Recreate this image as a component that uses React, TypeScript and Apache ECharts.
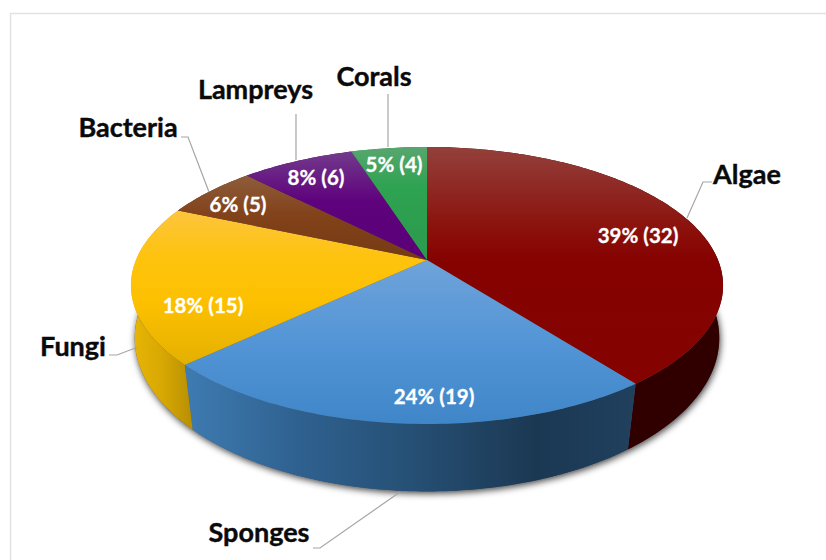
import React, { useEffect, useRef } from "react";
import * as echarts from "echarts";

const categories = ["Algae", "Sponges", "Fungi", "Bacteria", "Lampreys", "Corals"];
const values = [32, 19, 15, 5, 6, 4];
const percents = [39, 24, 18, 6, 8, 5];

// Styling and layout, one entry per category
const topGradients: [number, number, [number, string][]][] = [
  [147, 383, [[0, "#93403b"], [0.36, "#8b0f0a"], [0.48, "#850200"], [1, "#840300"]]],
  [260, 424, [[0, "#6fa3da"], [0.5, "#5395d6"], [1, "#3f86c8"]]],
  [210, 365, [[0, "#fcc53f"], [0.3, "#fec30e"], [0.6, "#fdc000"], [1, "#e3b000"]]],
  [178, 260, [[0, "#8d5b3a"], [0.45, "#82421a"], [1, "#763a12"]]],
  [152, 260, [[0, "#723a8b"], [0.45, "#5f027d"], [1, "#5a0076"]]],
  [147, 260, [[0, "#58a66f"], [0.35, "#2ea351"], [1, "#2b9a4d"]]],
];
const wallStops: [number, number, [number, string][]][] = [
  [630, 723, [[0, "#300000"], [1, "#300000"]]],
  [186, 634, [[0, "#3e7bb1"], [0.25, "#2f6190"], [0.5, "#265075"], [0.78, "#1b3853"], [1, "#20405e"]]],
  [133, 190, [[0, "#e8b505"], [0.5, "#d8a803"], [1, "#bb9102"]]],
  [133, 190, [[0, "#6a3410"], [1, "#6a3410"]]],
  [133, 190, [[0, "#4f0068"], [1, "#4f0068"]]],
  [133, 190, [[0, "#24803f"], [1, "#24803f"]]],
];
const namePositions: [number, number][] = [[747, 173], [259, 531], [73, 345], [128, 126], [255.5, 88], [374, 75]];
const percentPositions: [number, number][] = [[638, 235], [434, 396], [203, 305], [238, 204], [316, 177], [394, 164]];
const leaderLines: [number, number][][] = [
  [[712, 182], [703, 182], [687, 218]],
  [[313, 548], [320, 548], [400, 492]],
  [[109, 355], [117, 355], [138, 347]],
  [[181, 137], [188, 137], [209, 192]],
  [[296, 114], [296, 160]],
  [[388, 94], [388, 147]],
];

// Perspective projection of the unit disc, for the top and the bottom faces
const CX = 427;
function project(theta: number, cy: number, a: number, b: number, p: number): [number, number] {
  const u = Math.sin(theta);
  const v = -Math.cos(theta);
  const w = 1 - p * v;
  return [CX + (a * u) / w, cy + (b * v) / w];
}
const CY = 260;
const top = (t: number) => project(t, CY, 291, 133.8, 0.184);
const bottom = (t: number) => project(t, 315, 289, 150, 0.15);

function arc(fn: (t: number) => [number, number], a: number, b: number): [number, number][] {
  const n = Math.max(2, Math.ceil(((b - a) * 180) / Math.PI));
  const pts: [number, number][] = [];
  for (let i = 0; i <= n; i++) pts.push(fn(a + ((b - a) * i) / n));
  return pts;
}

const total = values.reduce((s, v) => s + v, 0);
const starts: number[] = [];
values.reduce((acc, v) => {
  starts.push(acc);
  return acc + v;
}, 0);
const angle = (v: number) => (v / total) * Math.PI * 2;

const seriesData = categories.map((name, i) => ({ name, value: [i, values[i], starts[i]] }));

function gradient(spec: [number, number, [number, string][]], vertical: boolean) {
  const [a, b, stops] = spec;
  const cs = stops.map(([offset, color]) => ({ offset, color }));
  return vertical
    ? new echarts.graphic.LinearGradient(0, a, 0, b, cs, true)
    : new echarts.graphic.LinearGradient(a, 0, b, 0, cs, true);
}

const option: any = {
  animation: false,
  backgroundColor: "#ffffff",
  series: [
    {
      type: "custom",
      coordinateSystem: "none",
      silent: true,
      z: 1,
      data: [{ name: "shadow", value: [0] }],
      renderItem: () => ({
        type: "polygon",
        shape: { points: arc(bottom, 0, Math.PI * 2) },
        style: { fill: "#555555", shadowBlur: 7, shadowColor: "rgba(0,0,0,0.75)", shadowOffsetX: 1, shadowOffsetY: 2 },
      }),
    },
    {
      type: "custom",
      coordinateSystem: "none",
      silent: true,
      z: 2,
      data: seriesData,
      renderItem: (_: any, api: any) => {
        const i = api.value(0);
        const a = angle(api.value(2));
        const b = a + angle(api.value(1));
        const points = [...arc(top, a, b), ...arc(bottom, a, b).reverse()];
        return {
          type: "polygon",
          shape: { points },
          style: { fill: gradient(wallStops[i], false) },
        };
      },
    },
    {
      type: "custom",
      coordinateSystem: "none",
      silent: true,
      z: 3,
      data: seriesData,
      renderItem: (_: any, api: any) => {
        const i = api.value(0);
        const a = angle(api.value(2));
        const b = a + angle(api.value(1));
        const points: [number, number][] = [[CX, CY], ...arc(top, a, b)];
        return {
          type: "polygon",
          shape: { points },
          style: { fill: gradient(topGradients[i], true) },
        };
      },
    },
  ],
  graphic: {
    elements: [
      { type: "polyline", silent: true, shape: { points: [[10.5, 560], [10.5, 13.5], [826, 13.5]] }, style: { stroke: "#e2e2e2", fill: "none", lineWidth: 1.5 }, z: 0 },
      ...leaderLines.map((points) => ({
        type: "polyline",
        silent: true,
        z: 5,
        shape: { points },
        style: { stroke: "#a6a6a6", fill: "none", lineWidth: 1.2 },
      })),
      ...categories.map((name, i) => ({
        type: "text",
        silent: true,
        z: 6,
        x: namePositions[i][0],
        y: namePositions[i][1],
        style: { text: name, fill: "#0a0a0a", stroke: "#0a0a0a", lineWidth: 0.4, font: "700 27px Lato", align: "center", verticalAlign: "middle" },
      })),
      ...categories.map((_, i) => ({
        type: "text",
        silent: true,
        z: 6,
        x: percentPositions[i][0],
        y: percentPositions[i][1],
        style: { text: `${percents[i]}% (${values[i]})`, fill: "#ffffff", stroke: "#ffffff", lineWidth: 0.3, font: "700 20.5px Lato", align: "center", verticalAlign: "middle" },
      })),
    ],
  },
};

export default function App() {
  const ref = useRef<HTMLDivElement>(null);
  useEffect(() => {
    const chart = echarts.init(ref.current!, undefined, { renderer: "svg" });
    chart.setOption(option);
    return () => chart.dispose();
  }, []);
  return <div ref={ref} style={{ position: "absolute", left: 0, top: 0, width: 826, height: 560 }} />;
}
